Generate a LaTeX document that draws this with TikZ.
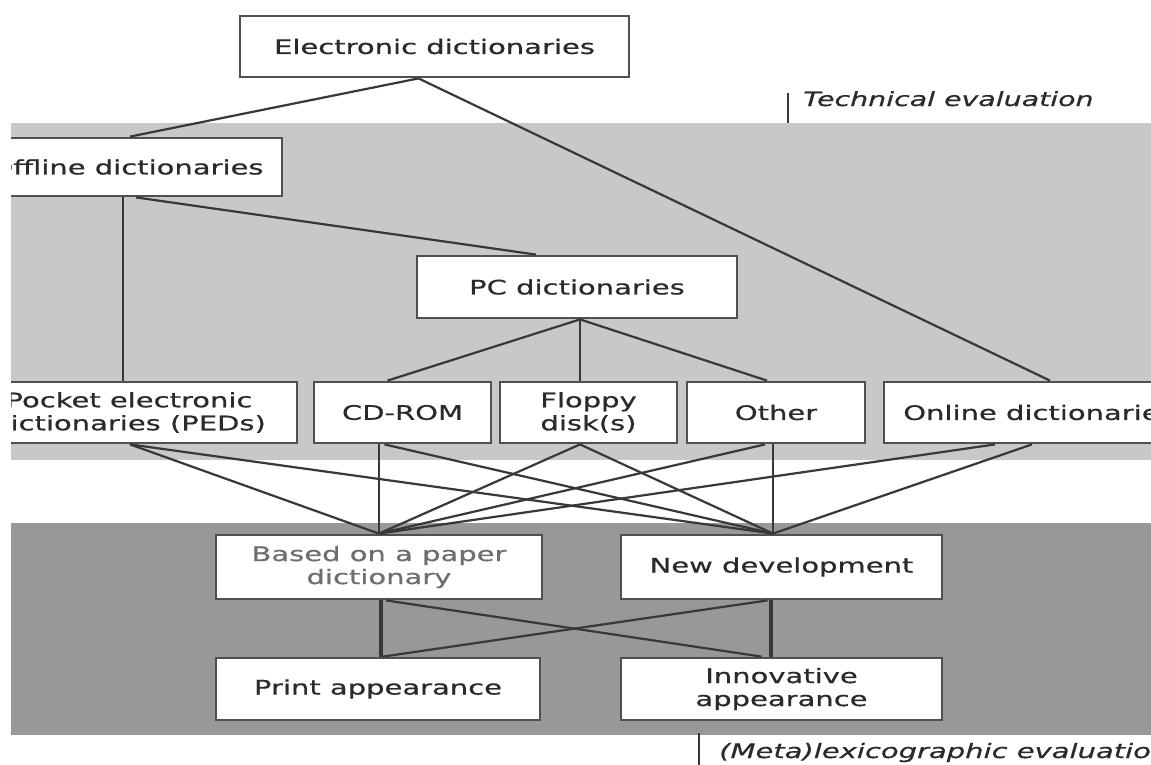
\documentclass[tikz,border=0pt]{standalone}
\usepackage{fontspec}
\setmainfont{DejaVu Sans}[FakeStretch=1.45,FakeBold=0.6]
\usetikzlibrary{calc}
\definecolor{lightband}{HTML}{C8C8C8}
\definecolor{darkband}{HTML}{989898}
\definecolor{boxline}{HTML}{505050}
\definecolor{connc}{HTML}{383838}
\definecolor{txt}{HTML}{2A2A2A}
\definecolor{txtlight}{HTML}{6E6E6E}
\begin{document}
\begin{tikzpicture}[x=1pt,y=-1pt,
  box/.style={draw=boxline, line width=2.8pt, fill=white, inner sep=0pt, text=txt,
    align=center, font=\fontsize{20}{23}\selectfont},
  conn/.style={draw=connc, line width=2.2pt},
  connthick/.style={draw=connc, line width=3.4pt},
  evallabel/.style={anchor=base west, inner sep=0pt, text=txt},
  tick/.style={draw=connc, line width=2.8pt}]
\useasboundingbox (0,0) rectangle (1151,764);
\fill[white] (0,0) rectangle (1151,764);
\begin{scope}
\clip (11,0) rectangle (1151,764);
\fill[lightband] (11,123) rectangle (1151,460);
\fill[darkband] (11,523) rectangle (1151,735);
% nodes
\node[box, minimum width=389pt, minimum height=61pt] (ed) at (434.5,46.5) {Electronic dictionaries};
\node[box, minimum width=310pt, minimum height=58pt] (off) at (127,167) {Offline dictionaries};
\node[box, minimum width=320pt, minimum height=62pt] (pc) at (577,287) {PC dictionaries};
\node[box, minimum width=336pt, minimum height=61pt] (ped) at (129,412.5) {Pocket electronic\\dictionaries (PEDs)};
\node[box, minimum width=177pt, minimum height=61pt] (cd) at (402.5,412.5) {CD-ROM};
\node[box, minimum width=177pt, minimum height=61pt] (fl) at (588.5,412.5) {Floppy\\disk(s)};
\node[box, minimum width=178pt, minimum height=61pt] (ot) at (776,412.5) {Other};
\node[box, minimum width=310pt, minimum height=61pt] (on) at (1039,412.5) {Online dictionaries};
\node[box, minimum width=326pt, minimum height=64pt, text=txtlight] (based) at (379,567) {Based on a paper\\dictionary};
\node[box, minimum width=321pt, minimum height=64pt] (new) at (781.5,567) {New development};
\node[box, minimum width=324pt, minimum height=62pt] (print) at (378,689) {Print appearance};
\node[box, minimum width=321pt, minimum height=62pt] (innov) at (781.5,689) {Innovative\\appearance};
% upper connectors
\coordinate (edb) at ($(ed.south)+(-16,0)$);
\draw[conn] (edb) -- ($(off.north)+(3,0)$);
\draw[conn] (edb) -- ($(on.north)+(11,0)$);
\coordinate (offv) at ($(off.south)+(-4,0)$);
\draw[conn] (offv) -- (offv |- ped.north);
\draw[conn] ($(off.south)+(9,0)$) -- ($(pc.north)+(-41,0)$);
\coordinate (pcb) at ($(pc.south)+(3,0)$);
\draw[conn] (pcb) -- ($(cd.north)+(-15,0)$);
\draw[conn] (pcb) -- (pcb |- fl.north);
\draw[conn] (pcb) -- ($(ot.north)+(-9,0)$);
% middle connectors
\coordinate (bt) at (based.north);
\coordinate (nt) at ($(new.north)+(-8.5,0)$);
\coordinate (pedb) at ($(ped.south)+(1,0)$);
\draw[conn] (pedb) -- (bt);
\draw[conn] (pedb) -- (nt);
\draw[conn] (bt |- cd.south) -- (bt);
\draw[conn] ($(cd.south)+(-18,0)$) -- (nt);
\coordinate (flb) at ($(fl.south)+(-8.5,0)$);
\draw[conn] (flb) -- (bt);
\draw[conn] (flb) -- (nt);
\draw[conn] (nt |- ot.south) -- (nt);
\draw[conn] ($(ot.south)+(-11,0)$) -- (bt);
\draw[conn] ($(on.south)+(-44,0)$) -- (bt);
\draw[conn] ($(on.south)+(-7,0)$) -- (nt);
% lower connectors
\coordinate (bbv) at ($(based.south)+(2,0)$);
\draw[connthick] (bbv) -- (bbv |- print.north);
\draw[conn] ($(based.south)+(7,0)$) -- ($(innov.north)+(-20,0)$);
\coordinate (nbv) at ($(new.south)+(-10.5,0)$);
\draw[connthick] (nbv) -- (nbv |- innov.north);
\draw[conn] ($(new.south)+(-14,0)$) -- ($(print.north)+(5,0)$);
% evaluation labels
\coordinate (techtick) at (788,93);
\draw[tick] (techtick) -- ++(0,30);
\node[evallabel, font=\fontsize{19.6}{22}\selectfont\itshape] (tech) at (803,106) {Technical evaluation};
\coordinate (metatick) at (699,733);
\draw[tick] (metatick) -- ++(0,35);
\node[evallabel, font=\fontsize{20}{22}\selectfont\itshape] (meta) at (719,758) {(Meta)lexicographic evaluation};
\end{scope}
\end{tikzpicture}
\end{document}
